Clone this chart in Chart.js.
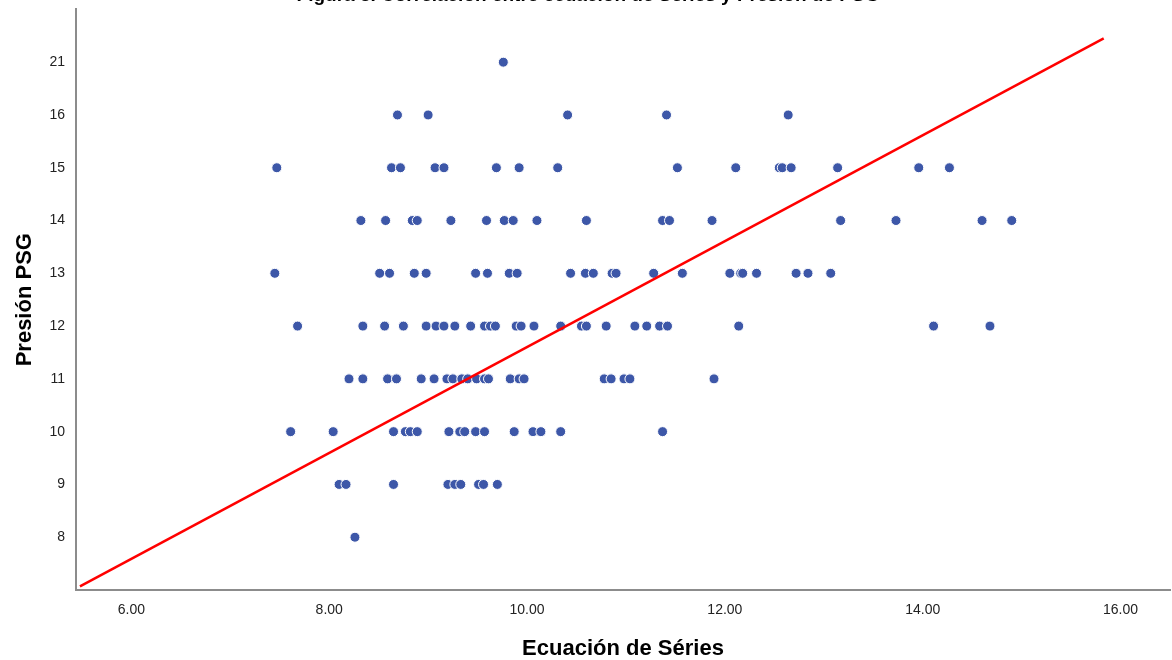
<!DOCTYPE html>
<html>
<head>
<meta charset="utf-8">
<script src="https://cdn.jsdelivr.net/npm/chart.js@4/dist/chart.umd.min.js"></script>
<style>
  html, body { margin: 0; padding: 0; background: #fff; overflow: hidden; }
  #wrap { width: 1172px; height: 660px; overflow: hidden; }
  #scatterChart { display: block; margin-top: -2px; }
</style>
</head>
<body>
<div id="wrap"><canvas id="scatterChart" width="1176" height="662"></canvas></div>
<script>
// tick labels of the y axis (evenly spaced, 21 sits right after 16)
const yTickLabels = ['8', '9', '10', '11', '12', '13', '14', '15', '16', '21'];
const xTickValues = [6, 8, 10, 12, 14, 16];

// Ecuación de Séries values, one list per Presión PSG row
const row21 = [9.76];
const row16 = [8.69, 9.00, 10.41, 11.41, 12.64];
const row15 = [7.47, 8.63, 8.72, 9.07, 9.16, 9.69, 9.92, 10.31, 11.52, 12.11, 12.55, 12.58, 12.67, 13.14, 13.96, 14.27];
const row14 = [8.32, 8.57, 8.84, 8.89, 9.23, 9.59, 9.77, 9.86, 10.10, 10.60, 11.37, 11.44, 11.87, 13.17, 13.73, 14.60, 14.90];
const row13 = [7.45, 8.51, 8.61, 8.86, 8.98, 9.48, 9.60, 9.82, 9.90, 10.44, 10.59, 10.67, 10.86, 10.90, 11.28, 11.57, 12.05, 12.16, 12.18, 12.32, 12.72, 12.84, 13.07];
const row12 = [7.68, 8.34, 8.56, 8.75, 8.98, 9.08, 9.16, 9.27, 9.43, 9.57, 9.63, 9.68, 9.89, 9.94, 10.07, 10.34, 10.55, 10.60, 10.80, 11.09, 11.21, 11.34, 11.42, 12.14, 14.11, 14.68];
const row11 = [8.20, 8.34, 8.59, 8.68, 8.93, 9.06, 9.19, 9.25, 9.34, 9.40, 9.49, 9.57, 9.61, 9.83, 9.92, 9.97, 10.78, 10.85, 10.98, 11.04, 11.89];
const row10 = [7.61, 8.04, 8.65, 8.77, 8.82, 8.89, 9.21, 9.32, 9.37, 9.48, 9.57, 9.87, 10.06, 10.14, 10.34, 11.37];
const row9 = [8.10, 8.17, 8.65, 9.20, 9.27, 9.33, 9.51, 9.56, 9.70];
const row8 = [8.26];

// red fit line, end points (x in Séries units, y in axis-slot units)
const lineX = [5.48, 15.83];
const lineY = [7.07, 17.45];

const rows = [
  { y: 21, xs: row21 }, { y: 16, xs: row16 }, { y: 15, xs: row15 }, { y: 14, xs: row14 },
  { y: 13, xs: row13 }, { y: 12, xs: row12 }, { y: 11, xs: row11 }, { y: 10, xs: row10 },
  { y: 9, xs: row9 }, { y: 8, xs: row8 }
];

// y axis is ordinal: tick i sits at slot 8 + i
function slotOf(v) {
  return 8 + yTickLabels.indexOf(String(v));
}

let points = [];
rows.forEach(r => {
  r.xs.forEach(x => points.push({ x: x, y: slotOf(r.y) }));
});

let linePoints = lineX.map((x, i) => ({ x: x, y: lineY[i] }));

const fontFamily = '"Liberation Sans", Arial, sans-serif';

// the figure title is cut off at the top edge in the original
const titlePlugin = {
  id: 'cutTitle',
  afterDraw(chart) {
    const c = chart.ctx;
    c.save();
    c.font = 'bold 19px ' + fontFamily;
    c.fillStyle = '#000';
    c.textAlign = 'center';
    c.textBaseline = 'middle';
    c.fillText('Figura 3. Correlación entre ecuación de Séries y Presión de PSG', 588, -2);
    c.restore();
  }
};

const ctx = document.getElementById('scatterChart').getContext('2d');
new Chart(ctx, {
  type: 'scatter',
  data: {
    datasets: [
      {
        type: 'line',
        label: 'Ajuste',
        data: linePoints,
        borderColor: '#ff0000',
        borderWidth: 2.5,
        pointRadius: 0,
        fill: false,
        order: 0
      },
      {
        label: 'Presión PSG',
        data: points,
        backgroundColor: '#3d57a8',
        borderColor: '#ffffff',
        borderWidth: 1,
        pointRadius: 5,
        order: 1
      }
    ]
  },
  options: {
    responsive: false,
    animation: false,
    layout: { padding: 0 },
    plugins: {
      legend: { display: false },
      tooltip: { enabled: false }
    },
    scales: {
      x: {
        type: 'linear',
        min: 5.44,
        max: 16.5,
        afterBuildTicks: (axis) => { axis.ticks = xTickValues.map(v => ({ value: v })); },
        grid: { display: false },
        border: { display: true, color: '#8c8c8c', width: 2 },
        ticks: {
          padding: 4,
          color: '#222',
          font: { family: fontFamily, size: 14 },
          callback: (v) => Number(v).toFixed(2)
        },
        title: {
          display: true,
          text: 'Ecuación de Séries',
          color: '#000',
          font: { family: fontFamily, size: 22, weight: 'bold' },
          padding: { top: 14, bottom: -2 }
        },
        afterFit: (axis) => { axis.height = 70; }
      },
      y: {
        type: 'linear',
        min: 7,
        max: 18,
        afterBuildTicks: (axis) => { axis.ticks = yTickLabels.map((t, i) => ({ value: 8 + i })); },
        grid: { display: false },
        border: { display: true, color: '#8c8c8c', width: 2 },
        ticks: {
          padding: 3,
          color: '#222',
          font: { family: fontFamily, size: 14 },
          callback: (v) => yTickLabels[v - 8] || ''
        },
        title: {
          display: true,
          text: 'Presión PSG',
          color: '#000',
          font: { family: fontFamily, size: 22, weight: 'bold' },
          padding: { top: 12, bottom: 4 }
        },
        afterFit: (axis) => { axis.width = 76; }
      }
    }
  },
  plugins: [titlePlugin]
});
</script>
</body>
</html>
